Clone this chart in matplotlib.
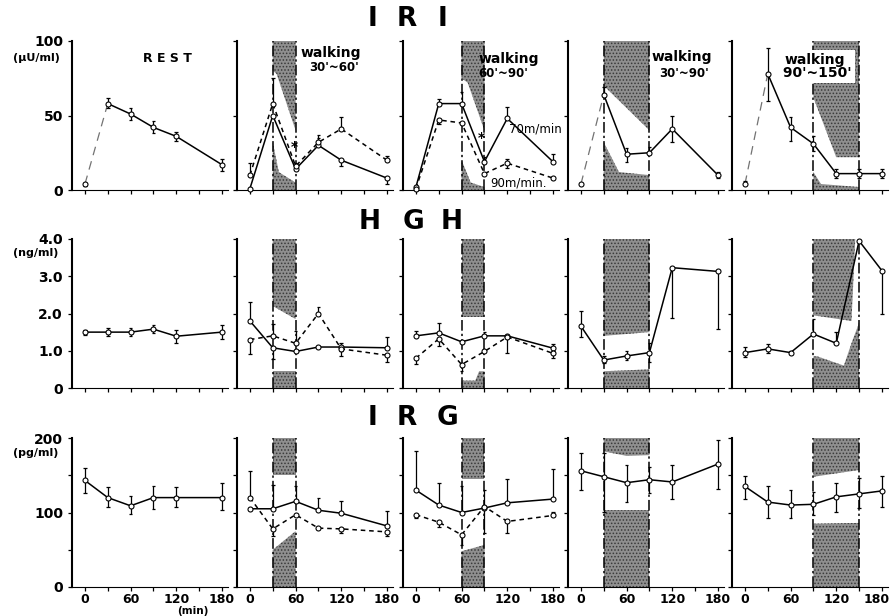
import matplotlib.pyplot as plt
from matplotlib.transforms import ScaledTranslation

plt.rcParams['font.family'] = ['DejaVu Sans']
plt.rcParams['hatch.linewidth'] = 0.7

# sampling times (min)
t6 = [0, 30, 60, 90, 120, 180]
t7 = [0, 30, 60, 90, 120, 150, 180]

# walking periods per column (None = rest)
walk = [None, (30, 60), (60, 90), (30, 90), (90, 150)]

# ---------------- IRI (uU/ml) ----------------
iri_rest = [4, 58, 51, 42, 36, 17]
iri_rest_lo = [1, 3, 4, 4, 3, 4]
iri_rest_hi = [1, 4, 4, 4, 3, 4]

iri_a70 = [1, 50, 14, 30, 20, 8]
iri_a70_lo = [0, 0, 0, 0, 4, 4]
iri_a70_hi = [0, 0, 4, 5, 0, 0]
iri_a90 = [10, 58, 16, 32, 41, 20]
iri_a90_lo = [0, 0, 0, 0, 0, 0]
iri_a90_hi = [8, 17, 0, 5, 8, 3]

iri_b70 = [2, 58, 58, 19, 48, 19]
iri_b70_lo = [0, 0, 0, 0, 0, 0]
iri_b70_hi = [0, 3, 8, 3, 8, 5]
iri_b90 = [1, 47, 45, 11, 18, 8]
iri_b90_lo = [0, 3, 0, 0, 3, 0]
iri_b90_hi = [0, 0, 0, 0, 3, 0]

iri_c = [4, 64, 24, 25, 41, 10]
iri_c_lo = [0, 0, 5, 0, 9, 2]
iri_c_hi = [0, 5, 4, 4, 9, 2]

iri_d = [4, 78, 42, 31, 11, 11, 11]
iri_d_lo = [0, 18, 9, 5, 3, 3, 3]
iri_d_hi = [2, 17, 7, 5, 3, 3, 3]

# ---------------- HGH (ng/ml) ----------------
hgh_rest = [1.5, 1.5, 1.5, 1.58, 1.39, 1.5]
hgh_rest_lo = [0.07, 0.1, 0.1, 0.1, 0.18, 0.18]
hgh_rest_hi = [0.07, 0.1, 0.1, 0.1, 0.18, 0.18]

hgh_a70 = [1.8, 1.08, 0.98, 1.1, 1.1, 1.08]
hgh_a70_lo = [0, 0.3, 0, 0, 0.1, 0]
hgh_a70_hi = [0.5, 0, 0, 0, 0.12, 0.28]
hgh_a90 = [1.3, 1.4, 1.2, 2.0, 1.05, 0.88]
hgh_a90_lo = [0.38, 0, 0, 0, 0.2, 0.18]
hgh_a90_hi = [0, 0.32, 0.32, 0.18, 0, 0]

hgh_b70 = [1.4, 1.48, 1.24, 1.4, 1.4, 1.07]
hgh_b70_lo = [0, 0, 0, 0, 0.45, 0]
hgh_b70_hi = [0.12, 0.27, 0, 0.1, 0, 0.1]
hgh_b90 = [0.8, 1.32, 0.63, 0.98, 1.37, 0.93]
hgh_b90_lo = [0.15, 0.2, 0.18, 0, 0, 0.12]
hgh_b90_hi = [0, 0, 0, 0, 0, 0.05]

hgh_c = [1.66, 0.75, 0.86, 0.95, 3.23, 3.13]
hgh_c_lo = [0.3, 0.08, 0.1, 0.25, 1.35, 1.55]
hgh_c_hi = [0.4, 0.12, 0.12, 0.26, 0, 0]

hgh_d = [0.95, 1.05, 0.95, 1.45, 1.2, 3.95, 3.15]
hgh_d_lo = [0.12, 0.12, 0.05, 0, 0, 0, 1.15]
hgh_d_hi = [0.15, 0.12, 0.05, 0.4, 0.3, 0, 0]

# ---------------- IRG (pg/ml) ----------------
irg_rest = [143, 120, 109, 120, 120, 120]
irg_rest_lo = [17, 13, 11, 15, 12, 16]
irg_rest_hi = [17, 14, 13, 16, 14, 19]

irg_a70 = [105, 105, 115, 103, 99, 82]
irg_a70_lo = [0, 0, 0, 0, 0, 0]
irg_a70_hi = [0, 32, 21, 17, 17, 20]
irg_a90 = [120, 78, 97, 79, 78, 74]
irg_a90_lo = [0, 10, 0, 0, 6, 5]
irg_a90_hi = [36, 0, 0, 0, 0, 0]

irg_b70 = [130, 110, 100, 106, 113, 118]
irg_b70_lo = [0, 0, 0, 34, 0, 0]
irg_b70_hi = [52, 30, 35, 24, 32, 40]
irg_b90 = [97, 87, 70, 108, 88, 96]
irg_b90_lo = [5, 6, 14, 0, 16, 0]
irg_b90_hi = [0, 0, 0, 0, 0, 5]

irg_c = [156, 148, 140, 144, 141, 165]
irg_c_lo = [26, 47, 26, 18, 23, 34]
irg_c_hi = [24, 32, 24, 17, 23, 32]

irg_d = [135, 114, 110, 111, 121, 125, 129]
irg_d_lo = [17, 21, 17, 14, 20, 19, 21]
irg_d_hi = [14, 22, 20, 16, 19, 21, 20]

# stippled areas drawn inside the walking periods (outline points)
shade_iri = [None,
             [[(30, 100), (60, 100), (60, 40), (35, 78), (30, 80)],
              [(30, 0), (60, 0), (60, 5), (38, 12), (30, 32)]],
             [[(60, 100), (90, 100), (90, 40), (68, 72), (60, 75)],
              [(60, 0), (90, 0), (90, 2), (72, 5), (60, 20)]],
             [[(30, 100), (90, 100), (90, 40), (30, 70)],
              [(30, 0), (90, 0), (90, 10), (50, 12), (30, 32)]],
             [[(90, 100), (150, 100), (150, 22), (120, 22), (90, 62)],
              [(90, 0), (150, 0), (150, 2), (100, 4), (90, 12)]]]
shade_hgh = [None,
             [[(30, 4), (60, 4), (60, 1.85), (30, 2.2)],
              [(30, 0), (60, 0), (60, 0.45), (30, 0.45)]],
             [[(60, 4), (90, 4), (90, 1.9), (60, 1.9)],
              [(60, 0), (90, 0), (90, 0.45), (83, 0.45), (78, 0.2), (60, 0.2)]],
             [[(30, 4), (90, 4), (90, 1.5), (30, 1.4)],
              [(30, 0), (90, 0), (90, 0.5), (30, 0.45)]],
             [[(90, 4), (145, 4), (140, 1.8), (90, 1.95)],
              [(90, 0), (150, 0), (150, 1.75), (140, 1.2), (130, 0.6), (95, 0.85), (90, 0.85)]]]
shade_irg = [None,
             [[(30, 200), (60, 200), (60, 150), (30, 150)],
              [(30, 0), (60, 0), (60, 75), (30, 50)]],
             [[(60, 200), (90, 200), (90, 145), (60, 145)],
              [(60, 0), (90, 0), (90, 57), (85, 55), (60, 48)]],
             [[(30, 200), (90, 200), (90, 177), (60, 176), (30, 182)],
              [(30, 0), (90, 0), (90, 103), (30, 103)]],
             [[(90, 200), (150, 200), (150, 157), (90, 148)],
              [(90, 0), (150, 0), (150, 86), (90, 85)]]]

rows = [
    dict(ymax=100, yticks=[0, 50, 100], ylabels=['0', '50', '100'], unit='(\u03bcU/ml)',
         shade=shade_iri,
         panels=[[(t6, iri_rest, iri_rest_lo, iri_rest_hi, False, True)],
                 [(t6, iri_a70, iri_a70_lo, iri_a70_hi, False, False),
                  (t6, iri_a90, iri_a90_lo, iri_a90_hi, True, False)],
                 [(t6, iri_b70, iri_b70_lo, iri_b70_hi, False, False),
                  (t6, iri_b90, iri_b90_lo, iri_b90_hi, True, False)],
                 [(t6, iri_c, iri_c_lo, iri_c_hi, False, True)],
                 [(t7, iri_d, iri_d_lo, iri_d_hi, False, True)]]),
    dict(ymax=4.0, yticks=[0, 1, 2, 3, 4], ylabels=['0', '1.0', '2.0', '3.0', '4.0'], unit='(ng/ml)',
         shade=shade_hgh,
         panels=[[(t6, hgh_rest, hgh_rest_lo, hgh_rest_hi, False, False)],
                 [(t6, hgh_a70, hgh_a70_lo, hgh_a70_hi, False, False),
                  (t6, hgh_a90, hgh_a90_lo, hgh_a90_hi, True, False)],
                 [(t6, hgh_b70, hgh_b70_lo, hgh_b70_hi, False, False),
                  (t6, hgh_b90, hgh_b90_lo, hgh_b90_hi, True, False)],
                 [(t6, hgh_c, hgh_c_lo, hgh_c_hi, False, False)],
                 [(t7, hgh_d, hgh_d_lo, hgh_d_hi, False, False)]]),
    dict(ymax=200, yticks=[0, 50, 100, 150, 200], ylabels=['0', '', '100', '', '200'], unit='(pg/ml)',
         shade=shade_irg,
         panels=[[(t6, irg_rest, irg_rest_lo, irg_rest_hi, False, False)],
                 [(t6, irg_a70, irg_a70_lo, irg_a70_hi, False, False),
                  (t6, irg_a90, irg_a90_lo, irg_a90_hi, True, False)],
                 [(t6, irg_b70, irg_b70_lo, irg_b70_hi, False, False),
                  (t6, irg_b90, irg_b90_lo, irg_b90_hi, True, False)],
                 [(t6, irg_c, irg_c_lo, irg_c_hi, False, False)],
                 [(t7, irg_d, irg_d_lo, irg_d_hi, False, False)]]),
]


def draw_series(ax, t, v, lo, hi, dashed, faint_first):
    cap = 2.5
    for x, y, l, h in zip(t, v, lo, hi):
        if h > 0:
            ax.vlines(x, y, y + h, color='k', lw=0.9, zorder=3)
            ax.hlines(y + h, x - cap, x + cap, color='k', lw=0.9, zorder=3)
        if l > 0:
            ax.vlines(x, y - l, y, color='k', lw=0.9, zorder=3)
            ax.hlines(y - l, x - cap, x + cap, color='k', lw=0.9, zorder=3)
    ls = (0, (3, 2.5)) if dashed else '-'
    s = 0
    if faint_first:
        ax.plot(t[:2], v[:2], color='0.45', lw=0.9, ls=(0, (7, 5)), zorder=2)
        s = 1
    ax.plot(t[s:], v[s:], color='k', lw=1.1, ls=ls, zorder=3, clip_on=False)
    ax.plot(t, v, 'o', ms=3.6, mfc='white', mec='k', mew=0.8, zorder=4, clip_on=False)


fig = plt.figure(figsize=(8.91, 6.16), dpi=100)
lefts = [72, 237, 403, 568, 732]
bottoms = [190, 388, 587]
W, H = 891.0, 616.0
axes = {}
for r, row in enumerate(rows):
    for c in range(5):
        ax = fig.add_axes([lefts[c] / W, 1 - bottoms[r] / H, 156 / W, 149 / H])
        axes[(r, c)] = ax
        ax.set_xlim(-17, 188)
        ax.set_ylim(0, row['ymax'])
        for s in ['top', 'right']:
            ax.spines[s].set_visible(False)
        ax.spines['left'].set_linewidth(1.5)
        ax.spines['bottom'].set_linewidth(0.8)
        ax.set_xticks(t7)
        ax.set_yticks(row['yticks'])
        ax.tick_params(length=3, width=0.9)
        ax.tick_params(axis='x', pad=1.5)
        if c == 0:
            ax.set_yticklabels(row['ylabels'], fontsize=10, fontweight='bold')
        else:
            ax.set_yticklabels([])
        if r == 2:
            ax.set_xticklabels(['0', '', '60', '', '120', '', '180'], fontsize=9, fontweight='bold')
        else:
            ax.set_xticklabels([])

        if walk[c] is not None:
            a, b = walk[c]
            for poly in row['shade'][c]:
                xs = [p[0] for p in poly]
                ys = [p[1] for p in poly]
                ax.fill(xs, ys, facecolor='#8f8f8f', edgecolor='#3a3a3a', hatch='.....', lw=0, zorder=1)
            for x in (a, b):
                ax.axvline(x, color='k', lw=1.1, ls=(0, (7, 2, 1.5, 2)), zorder=2)

        for t, v, lo, hi, dashed, faint in row['panels'][c]:
            draw_series(ax, t, v, lo, hi, dashed, faint)

    fig.text(36 / W, 1 - [58, 253, 453][r] / H, row['unit'], fontsize=8,
             fontweight='bold', ha='center', va='center')

# keep the last "180" inside the figure
last = axes[(2, 4)].get_xticklabels()[-1]
last.set_transform(last.get_transform() + ScaledTranslation(-5 / 100, 0, fig.dpi_scale_trans))

# row titles
for letters, xs, y in [('IRI', [372, 407, 442], 19),
                       ('HGH', [370, 413, 452], 222),
                       ('IRG', [372, 407, 447], 418)]:
    for ch, x in zip(letters, xs):
        fig.text(x / W, 1 - y / H, ch, fontsize=19, fontweight='heavy',
                 ha='center', va='center')

fig.text(193 / W, 1 - 611 / H, '(min)', fontsize=7.5, fontweight='bold', ha='center', va='center')

# panel captions
ax = axes[(0, 0)]
ax.text(109, 88, 'R E S T', fontsize=9, fontweight='bold', ha='center', va='center')
ax = axes[(0, 1)]
ax.text(106, 92, 'walking', fontsize=10, fontweight='bold', ha='center', va='center')
ax.text(110, 82, "30'~60'", fontsize=8.5, fontweight='bold', ha='center', va='center')
ax.text(59, 29, '*', fontsize=10, fontweight='bold', ha='center', va='center')
ax = axes[(0, 2)]
ax.text(122, 88, 'walking', fontsize=10, fontweight='bold', ha='center', va='center')
ax.text(114, 78, "60'~90'", fontsize=8.5, fontweight='bold', ha='center', va='center')
ax.text(86, 35, '*', fontsize=10, fontweight='bold', ha='center', va='center')
ax.text(157, 41, '70m/min', fontsize=8.5, ha='center', va='center', clip_on=False, zorder=6)
ax.text(135, 5, '90m/min.', fontsize=8.5, ha='center', va='center')
ax = axes[(0, 3)]
ax.text(132, 89, 'walking', fontsize=10, fontweight='bold', ha='center', va='center')
ax.text(135, 78, "30'~90'", fontsize=8.5, fontweight='bold', ha='center', va='center')
ax = axes[(0, 4)]
ax.text(92, 83, "walking\n 90'~150'", fontsize=10, fontweight='bold', ha='center', va='center',
        linespacing=0.95, zorder=5,
        bbox=dict(facecolor='white', edgecolor='none', pad=2))

fig.savefig('out.png', dpi=100)
